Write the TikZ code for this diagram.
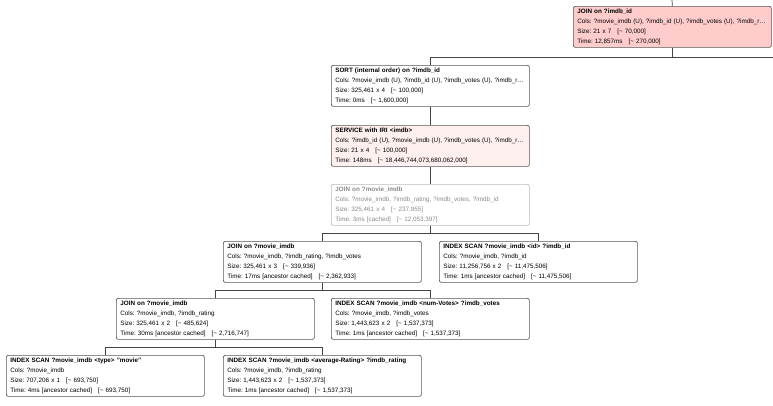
\documentclass[tikz,border=0pt]{standalone}
\usepackage{fontspec}
\setmainfont{Liberation Sans}
\usepackage{tikz}
\usetikzlibrary{arrows.meta}

\definecolor{boxline}{HTML}{555555}
\definecolor{wireline}{HTML}{444444}
\definecolor{hotfill}{HTML}{FFCCCC}
\definecolor{warmfill}{HTML}{FFF0F0}
\definecolor{cachedline}{HTML}{BBBBBB}
\definecolor{cachedtext}{HTML}{8A8A8A}

\begin{document}
\frenchspacing
\begin{tikzpicture}[x=1pt, y=1pt,
    opbox/.style={draw=boxline, line width=0.7pt, rounded corners=2pt, fill=white,
        anchor=north west, minimum width=198pt, minimum height=41pt,
        text width=190pt, align=left, inner xsep=4pt, inner ysep=2pt,
        font=\fontsize{6.3}{9.9}\selectfont},
    hotbox/.style={opbox, fill=hotfill},
    warmbox/.style={opbox, fill=warmfill},
    cachedbox/.style={opbox, draw=cachedline, text=cachedtext},
    wire/.style={draw=wireline, line width=0.7pt}]
            \useasboundingbox (0,0) rectangle (773,-405);
            % Nodes
            \node[hotbox] (joinid) at (573,-6) {\textbf{JOIN on ?imdb\_id}\\
                Cols: ?movie\_imdb (U), ?imdb\_id (U), ?imdb\_votes (U), ?imdb\_r…\\
                Size: 21 x 7\hspace{6pt}[\textasciitilde{} 70,000]\\
                Time: 12,857ms\hspace{6pt}[\textasciitilde{} 270,000]};
            \node[opbox] (sort) at (331,-65) {\textbf{SORT (internal order) on ?imdb\_id}\\
                Cols: ?movie\_imdb (U), ?imdb\_id (U), ?imdb\_votes (U), ?imdb\_r…\\
                Size: 325,461 x 4\hspace{6pt}[\textasciitilde{} 100,000]\\
                Time: 0ms\hspace{6pt}[\textasciitilde{} 1,600,000]};
            \node[warmbox] (service) at (331,-125) {\textbf{SERVICE with IRI <imdb>}\\
                Cols: ?imdb\_id (U), ?movie\_imdb (U), ?imdb\_votes (U), ?imdb\_r…\\
                Size: 21 x 4\hspace{6pt}[\textasciitilde{} 100,000]\\
                Time: 148ms\hspace{6pt}[\textasciitilde{} 18,446,744,073,680,062,000]};
            \node[cachedbox] (joinall) at (331,-184) {\textbf{JOIN on ?movie\_imdb}\\
                Cols: ?movie\_imdb, ?imdb\_rating, ?imdb\_votes, ?imdb\_id\\
                Size: 325,461 x 4\hspace{6pt}[\textasciitilde{} 237,955]\\
                Time: 3ms [cached]\hspace{6pt}[\textasciitilde{} 12,053,397]};
            \node[opbox] (joinvotes) at (223,-241) {\textbf{JOIN on ?movie\_imdb}\\
                Cols: ?movie\_imdb, ?imdb\_rating, ?imdb\_votes\\
                Size: 325,461 x 3\hspace{6pt}[\textasciitilde{} 339,936]\\
                Time: 17ms [ancestor cached]\hspace{6pt}[\textasciitilde{} 2,362,933]};
            \node[opbox] (scanid) at (439,-241) {\textbf{INDEX SCAN ?movie\_imdb <id> ?imdb\_id}\\
                Cols: ?movie\_imdb, ?imdb\_id\\
                Size: 11,256,756 x 2\hspace{6pt}[\textasciitilde{} 11,475,506]\\
                Time: 1ms [ancestor cached]\hspace{6pt}[\textasciitilde{} 11,475,506]};
            \node[opbox] (joinrating) at (116,-298) {\textbf{JOIN on ?movie\_imdb}\\
                Cols: ?movie\_imdb, ?imdb\_rating\\
                Size: 325,461 x 2\hspace{6pt}[\textasciitilde{} 485,624]\\
                Time: 30ms [ancestor cached]\hspace{6pt}[\textasciitilde{} 2,716,747]};
            \node[opbox] (scanvotes) at (331,-298) {\textbf{INDEX SCAN ?movie\_imdb <num-Votes> ?imdb\_votes}\\
                Cols: ?movie\_imdb, ?imdb\_votes\\
                Size: 1,443,623 x 2\hspace{6pt}[\textasciitilde{} 1,537,373]\\
                Time: 1ms [ancestor cached]\hspace{6pt}[\textasciitilde{} 1,537,373]};
            \node[opbox] (scantype) at (6,-355) {\textbf{INDEX SCAN ?movie\_imdb <type> "movie"}\\
                Cols: ?movie\_imdb\\
                Size: 707,206 x 1\hspace{6pt}[\textasciitilde{} 693,750]\\
                Time: 4ms [ancestor cached]\hspace{6pt}[\textasciitilde{} 693,750]};
            \node[opbox] (scanrating) at (223,-355) {\textbf{INDEX SCAN ?movie\_imdb <average-Rating> ?imdb\_rating}\\
                Cols: ?movie\_imdb, ?imdb\_rating\\
                Size: 1,443,623 x 2\hspace{6pt}[\textasciitilde{} 1,537,373]\\
                Time: 1ms [ancestor cached]\hspace{6pt}[\textasciitilde{} 1,537,373]};
            \coordinate (abovetop) at (672,0);
            \coordinate (offright) at (773,-57);
            % Connections
            \draw[wire] (abovetop) -- (joinid.north);
            \draw[wire] (joinid.south) -- ++(0,-10) -| (sort.north);
            \draw[wire] (joinid.south) |- (offright);
            \draw[wire] (sort.south) -- (service.north);
            \draw[wire] (service.south) -- (joinall.north);
            \draw[wire] (joinall.south) -- ++(0,-8) -| (joinvotes.north);
            \draw[wire] (joinall.south) -- ++(0,-8) -| (scanid.north);
            \draw[wire] (joinvotes.south) -- ++(0,-8) -| (joinrating.north);
            \draw[wire] (joinvotes.south) -- ++(0,-8) -| (scanvotes.north);
            \draw[wire] (joinrating.south) -- ++(0,-8) -| (scantype.north);
            \draw[wire] (joinrating.south) -- ++(0,-8) -| (scanrating.north);
\end{tikzpicture}
\end{document}
